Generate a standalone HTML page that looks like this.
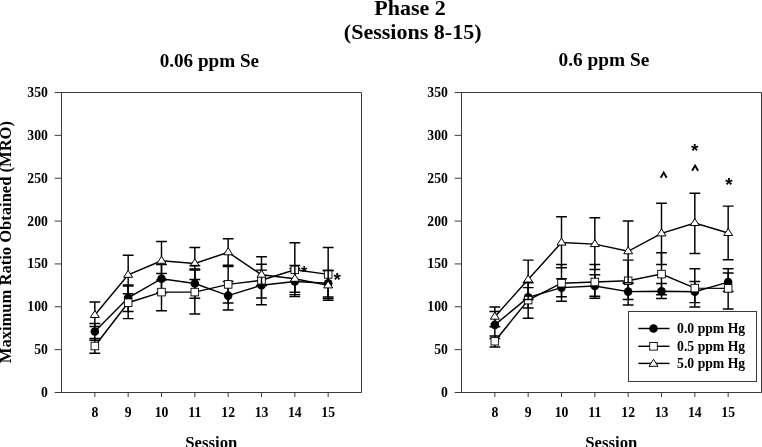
<!DOCTYPE html>
<html><head><meta charset="utf-8"><title>Phase 2 (Sessions 8-15)</title>
<style>
html,body{margin:0;padding:0;background:#fff}
body{width:762px;height:447px;overflow:hidden}
svg{display:block;will-change:transform}
text{font-family:"Liberation Serif",serif;font-weight:bold;fill:#000}
.t{font-size:13.7px}
.ax{font-size:16.5px}
.h2{font-size:19.1px}
.h1{font-size:22px}
.st{font-family:"Liberation Sans",sans-serif;font-size:16px}
.st2{font-family:"Liberation Sans",sans-serif;font-size:19px}
.ht{font-family:"Liberation Sans",sans-serif;font-size:13px}
</style></head><body>
<svg width="762" height="447" viewBox="0 0 762 447">
<rect width="762" height="447" fill="#fff"/>
<text x="410" y="14.7" text-anchor="middle" class="h1">Phase 2</text>
<text x="343.8" y="38.8" textLength="137.8" lengthAdjust="spacingAndGlyphs" class="h1">(Sessions 8-15)</text>
<text x="159.7" y="66.5" textLength="99.4" lengthAdjust="spacingAndGlyphs" class="h2">0.06 ppm Se</text>
<text x="558.6" y="65.5" textLength="90.8" lengthAdjust="spacingAndGlyphs" class="h2">0.6 ppm Se</text>
<text transform="translate(10.7 363.2) rotate(-90)" textLength="242.2" lengthAdjust="spacingAndGlyphs" class="ax">Maximum Ratio Obtained (MRO)</text>
<text x="185.2" y="447.6" textLength="52.2" lengthAdjust="spacingAndGlyphs" class="ax">Session</text>
<text x="585.2" y="447.6" textLength="52.2" lengthAdjust="spacingAndGlyphs" class="ax">Session</text>
<path d="M61.5 92.5H361.5V392.5H61.5Z" fill="none" stroke="#3a3a3a" stroke-width="1"/>
<path d="M54.7 392.5H61.5M54.7 349.64H61.5M54.7 306.79H61.5M54.7 263.93H61.5M54.7 221.07H61.5M54.7 178.21H61.5M54.7 135.36H61.5M54.7 92.5H61.5M94.83 392.5V397M128.17 392.5V397M161.5 392.5V397M194.83 392.5V397M228.16 392.5V397M261.5 392.5V397M294.83 392.5V397M328.16 392.5V397" fill="none" stroke="#3a3a3a" stroke-width="1"/>
<text x="47.9" y="397" text-anchor="end" class="t">0</text>
<text x="47.9" y="354.14" text-anchor="end" class="t">50</text>
<text x="47.9" y="311.29" text-anchor="end" class="t">100</text>
<text x="47.9" y="268.43" text-anchor="end" class="t">150</text>
<text x="47.9" y="225.57" text-anchor="end" class="t">200</text>
<text x="47.9" y="182.71" text-anchor="end" class="t">250</text>
<text x="47.9" y="139.86" text-anchor="end" class="t">300</text>
<text x="47.9" y="97" text-anchor="end" class="t">350</text>
<text x="94.83" y="416.8" text-anchor="middle" class="t">8</text>
<text x="128.17" y="416.8" text-anchor="middle" class="t">9</text>
<text x="161.5" y="416.8" text-anchor="middle" class="t">10</text>
<text x="194.83" y="416.8" text-anchor="middle" class="t">11</text>
<text x="228.16" y="416.8" text-anchor="middle" class="t">12</text>
<text x="261.5" y="416.8" text-anchor="middle" class="t">13</text>
<text x="294.83" y="416.8" text-anchor="middle" class="t">14</text>
<text x="328.16" y="416.8" text-anchor="middle" class="t">15</text>
<polyline points="94.83,331.5 128.17,297.8 161.5,278.7 194.83,283.5 228.16,295.6 261.5,285.2 294.83,281.5 328.16,283.3" fill="none" stroke="#000" stroke-width="1.45"/>
<path d="M94.83 323.4V340.2M89.43 323.4H100.23M89.43 340.2H100.23M128.17 284.9V311.5M122.77 284.9H133.57M122.77 311.5H133.57M161.5 264.6V292.8M156.1 264.6H166.9M156.1 292.8H166.9M194.83 269V298.2M189.43 269H200.23M189.43 298.2H200.23M228.16 281.5V310M222.76 281.5H233.56M222.76 310H233.56M261.5 270.1V297.9M256.1 270.1H266.9M256.1 297.9H266.9M294.83 268.4V294.6M289.43 268.4H300.23M289.43 294.6H300.23M328.16 270.5V297M322.76 270.5H333.56M322.76 297H333.56" fill="none" stroke="#000" stroke-width="1.45"/>
<circle cx="94.83" cy="331.5" r="4.3" fill="#000"/>
<circle cx="128.17" cy="297.8" r="4.3" fill="#000"/>
<circle cx="161.5" cy="278.7" r="4.3" fill="#000"/>
<circle cx="194.83" cy="283.5" r="4.3" fill="#000"/>
<circle cx="228.16" cy="295.6" r="4.3" fill="#000"/>
<circle cx="261.5" cy="285.2" r="4.3" fill="#000"/>
<circle cx="294.83" cy="281.5" r="4.3" fill="#000"/>
<circle cx="328.16" cy="283.3" r="4.3" fill="#000"/>
<polyline points="94.83,346 128.17,302.7 161.5,292.1 194.83,292.1 228.16,284.4 261.5,280.3 294.83,269.8 328.16,274.4" fill="none" stroke="#000" stroke-width="1.45"/>
<path d="M94.83 338.4V353.2M89.43 338.4H100.23M89.43 353.2H100.23M128.17 286V318.6M122.77 286H133.57M122.77 318.6H133.57M161.5 273.4V310.7M156.1 273.4H166.9M156.1 310.7H166.9M194.83 269.9V314M189.43 269.9H200.23M189.43 314H200.23M228.16 265.3V303M222.76 265.3H233.56M222.76 303H233.56M261.5 256.8V304.8M256.1 256.8H266.9M256.1 304.8H266.9M294.83 242.7V296.5M289.43 242.7H300.23M289.43 296.5H300.23M328.16 247.4V300.3M322.76 247.4H333.56M322.76 300.3H333.56" fill="none" stroke="#000" stroke-width="1.45"/>
<rect x="91.03" y="342.2" width="7.6" height="7.6" fill="#fff" stroke="#000" stroke-width="0.9"/>
<rect x="124.37" y="298.9" width="7.6" height="7.6" fill="#fff" stroke="#000" stroke-width="0.9"/>
<rect x="157.7" y="288.3" width="7.6" height="7.6" fill="#fff" stroke="#000" stroke-width="0.9"/>
<rect x="191.03" y="288.3" width="7.6" height="7.6" fill="#fff" stroke="#000" stroke-width="0.9"/>
<rect x="224.36" y="280.6" width="7.6" height="7.6" fill="#fff" stroke="#000" stroke-width="0.9"/>
<rect x="257.7" y="276.5" width="7.6" height="7.6" fill="#fff" stroke="#000" stroke-width="0.9"/>
<rect x="291.03" y="266" width="7.6" height="7.6" fill="#fff" stroke="#000" stroke-width="0.9"/>
<rect x="324.36" y="270.6" width="7.6" height="7.6" fill="#fff" stroke="#000" stroke-width="0.9"/>
<polyline points="94.83,315 128.17,274.8 161.5,260.8 194.83,263.4 228.16,252.3 261.5,274.7 294.83,278.8 328.16,285.4" fill="none" stroke="#000" stroke-width="1.45"/>
<path d="M94.83 301.9V326.4M89.43 301.9H100.23M89.43 326.4H100.23M128.17 255.2V293.8M122.77 255.2H133.57M122.77 293.8H133.57M161.5 241.4V280M156.1 241.4H166.9M156.1 280H166.9M194.83 247.4V279.4M189.43 247.4H200.23M189.43 279.4H200.23M228.16 238.7V266.5M222.76 238.7H233.56M222.76 266.5H233.56M261.5 264.2V285.4M256.1 264.2H266.9M256.1 285.4H266.9M294.83 265.4V292.2M289.43 265.4H300.23M289.43 292.2H300.23M328.16 270.5V298.5M322.76 270.5H333.56M322.76 298.5H333.56" fill="none" stroke="#000" stroke-width="1.45"/>
<path d="M94.83 310.5L99.33 317.5L90.33 317.5Z" fill="#fff" stroke="#000" stroke-width="1" stroke-linejoin="miter"/>
<path d="M128.17 270.3L132.67 277.3L123.67 277.3Z" fill="#fff" stroke="#000" stroke-width="1" stroke-linejoin="miter"/>
<path d="M161.5 256.3L166 263.3L157 263.3Z" fill="#fff" stroke="#000" stroke-width="1" stroke-linejoin="miter"/>
<path d="M194.83 258.9L199.33 265.9L190.33 265.9Z" fill="#fff" stroke="#000" stroke-width="1" stroke-linejoin="miter"/>
<path d="M228.16 247.8L232.66 254.8L223.66 254.8Z" fill="#fff" stroke="#000" stroke-width="1" stroke-linejoin="miter"/>
<path d="M261.5 270.2L266 277.2L257 277.2Z" fill="#fff" stroke="#000" stroke-width="1" stroke-linejoin="miter"/>
<path d="M294.83 274.3L299.33 281.3L290.33 281.3Z" fill="#fff" stroke="#000" stroke-width="1" stroke-linejoin="miter"/>
<path d="M328.16 280.9L332.66 287.9L323.66 287.9Z" fill="#fff" stroke="#000" stroke-width="1" stroke-linejoin="miter"/>
<path d="M189.43 265.6H200.23" stroke="#000" stroke-width="1.45"/>
<path d="M461.5 92.5H761.5V392.5H461.5Z" fill="none" stroke="#3a3a3a" stroke-width="1"/>
<path d="M454.7 392.5H461.5M454.7 349.64H461.5M454.7 306.79H461.5M454.7 263.93H461.5M454.7 221.07H461.5M454.7 178.21H461.5M454.7 135.36H461.5M454.7 92.5H461.5M494.83 392.5V397M528.17 392.5V397M561.5 392.5V397M594.83 392.5V397M628.16 392.5V397M661.5 392.5V397M694.83 392.5V397M728.16 392.5V397" fill="none" stroke="#3a3a3a" stroke-width="1"/>
<text x="447.9" y="397" text-anchor="end" class="t">0</text>
<text x="447.9" y="354.14" text-anchor="end" class="t">50</text>
<text x="447.9" y="311.29" text-anchor="end" class="t">100</text>
<text x="447.9" y="268.43" text-anchor="end" class="t">150</text>
<text x="447.9" y="225.57" text-anchor="end" class="t">200</text>
<text x="447.9" y="182.71" text-anchor="end" class="t">250</text>
<text x="447.9" y="139.86" text-anchor="end" class="t">300</text>
<text x="447.9" y="97" text-anchor="end" class="t">350</text>
<text x="494.83" y="416.8" text-anchor="middle" class="t">8</text>
<text x="528.17" y="416.8" text-anchor="middle" class="t">9</text>
<text x="561.5" y="416.8" text-anchor="middle" class="t">10</text>
<text x="594.83" y="416.8" text-anchor="middle" class="t">11</text>
<text x="628.16" y="416.8" text-anchor="middle" class="t">12</text>
<text x="661.5" y="416.8" text-anchor="middle" class="t">13</text>
<text x="694.83" y="416.8" text-anchor="middle" class="t">14</text>
<text x="728.16" y="416.8" text-anchor="middle" class="t">15</text>
<polyline points="494.83,324.9 528.17,297.4 561.5,287.6 594.83,286 628.16,291.6 661.5,291.2 694.83,291.8 728.16,282.1" fill="none" stroke="#000" stroke-width="1.45"/>
<path d="M494.83 311.4V338.4M489.43 311.4H500.23M489.43 338.4H500.23M528.17 287.6V307.9M522.77 287.6H533.57M522.77 307.9H533.57M561.5 278.8V296.7M556.1 278.8H566.9M556.1 296.7H566.9M594.83 274.8V296.3M589.43 274.8H600.23M589.43 296.3H600.23M628.16 283.5V299.5M622.76 283.5H633.56M622.76 299.5H633.56M661.5 283.4V298.4M656.1 283.4H666.9M656.1 298.4H666.9M694.83 281.4V302.6M689.43 281.4H700.23M689.43 302.6H700.23M728.16 272.9V291.5M722.76 272.9H733.56M722.76 291.5H733.56" fill="none" stroke="#000" stroke-width="1.45"/>
<circle cx="494.83" cy="324.9" r="4.3" fill="#000"/>
<circle cx="528.17" cy="297.4" r="4.3" fill="#000"/>
<circle cx="561.5" cy="287.6" r="4.3" fill="#000"/>
<circle cx="594.83" cy="286" r="4.3" fill="#000"/>
<circle cx="628.16" cy="291.6" r="4.3" fill="#000"/>
<circle cx="661.5" cy="291.2" r="4.3" fill="#000"/>
<circle cx="694.83" cy="291.8" r="4.3" fill="#000"/>
<circle cx="728.16" cy="282.1" r="4.3" fill="#000"/>
<polyline points="494.83,341.2 528.17,300.1 561.5,283.2 594.83,282 628.16,280.8 661.5,274.1 694.83,288.1 728.16,288.4" fill="none" stroke="#000" stroke-width="1.45"/>
<path d="M494.83 335.9V346.9M489.43 335.9H500.23M489.43 346.9H500.23M528.17 282.7V318.2M522.77 282.7H533.57M522.77 318.2H533.57M561.5 264.5V301.3M556.1 264.5H566.9M556.1 301.3H566.9M594.83 264.5V298.3M589.43 264.5H600.23M589.43 298.3H600.23M628.16 260.1V304.9M622.76 260.1H633.56M622.76 304.9H633.56M661.5 252.7V294.8M656.1 252.7H666.9M656.1 294.8H666.9M694.83 268.8V306.9M689.43 268.8H700.23M689.43 306.9H700.23M728.16 268.8V308.9M722.76 268.8H733.56M722.76 308.9H733.56" fill="none" stroke="#000" stroke-width="1.45"/>
<rect x="491.03" y="337.4" width="7.6" height="7.6" fill="#fff" stroke="#000" stroke-width="0.9"/>
<rect x="524.37" y="296.3" width="7.6" height="7.6" fill="#fff" stroke="#000" stroke-width="0.9"/>
<rect x="557.7" y="279.4" width="7.6" height="7.6" fill="#fff" stroke="#000" stroke-width="0.9"/>
<rect x="591.03" y="278.2" width="7.6" height="7.6" fill="#fff" stroke="#000" stroke-width="0.9"/>
<rect x="624.37" y="277" width="7.6" height="7.6" fill="#fff" stroke="#000" stroke-width="0.9"/>
<rect x="657.7" y="270.3" width="7.6" height="7.6" fill="#fff" stroke="#000" stroke-width="0.9"/>
<rect x="691.03" y="284.3" width="7.6" height="7.6" fill="#fff" stroke="#000" stroke-width="0.9"/>
<rect x="724.36" y="284.6" width="7.6" height="7.6" fill="#fff" stroke="#000" stroke-width="0.9"/>
<polyline points="494.83,316.7 528.17,279.5 561.5,242.6 594.83,244.1 628.16,251.3 661.5,233.4 694.83,223 728.16,233" fill="none" stroke="#000" stroke-width="1.45"/>
<path d="M494.83 307V326.7M489.43 307H500.23M489.43 326.7H500.23M528.17 260.1V299.5M522.77 260.1H533.57M522.77 299.5H533.57M561.5 216.8V267.8M556.1 216.8H566.9M556.1 267.8H566.9M594.83 217.8V269.5M589.43 217.8H600.23M589.43 269.5H600.23M628.16 220.9V282.7M622.76 220.9H633.56M622.76 282.7H633.56M661.5 203.2V264.4M656.1 203.2H666.9M656.1 264.4H666.9M694.83 193.3V253.4M689.43 193.3H700.23M689.43 253.4H700.23M728.16 206.1V259.7M722.76 206.1H733.56M722.76 259.7H733.56" fill="none" stroke="#000" stroke-width="1.45"/>
<path d="M494.83 312.2L499.33 319.2L490.33 319.2Z" fill="#fff" stroke="#000" stroke-width="1" stroke-linejoin="miter"/>
<path d="M528.17 275L532.67 282L523.67 282Z" fill="#fff" stroke="#000" stroke-width="1" stroke-linejoin="miter"/>
<path d="M561.5 238.1L566 245.1L557 245.1Z" fill="#fff" stroke="#000" stroke-width="1" stroke-linejoin="miter"/>
<path d="M594.83 239.6L599.33 246.6L590.33 246.6Z" fill="#fff" stroke="#000" stroke-width="1" stroke-linejoin="miter"/>
<path d="M628.16 246.8L632.66 253.8L623.66 253.8Z" fill="#fff" stroke="#000" stroke-width="1" stroke-linejoin="miter"/>
<path d="M661.5 228.9L666 235.9L657 235.9Z" fill="#fff" stroke="#000" stroke-width="1" stroke-linejoin="miter"/>
<path d="M694.83 218.5L699.33 225.5L690.33 225.5Z" fill="#fff" stroke="#000" stroke-width="1" stroke-linejoin="miter"/>
<path d="M728.16 228.5L732.66 235.5L723.66 235.5Z" fill="#fff" stroke="#000" stroke-width="1" stroke-linejoin="miter"/>
<text x="304.2" y="277.5" text-anchor="middle" class="st">*</text>
<text x="337.1" y="286" text-anchor="middle" class="st2">*</text>
<text x="694.6" y="157" text-anchor="middle" class="st2">*</text>
<text x="729" y="191.4" text-anchor="middle" class="st2">*</text>
<path d="M660.7 177.8L663.7 172.6L666.7 177.8" fill="none" stroke="#000" stroke-width="1.9" stroke-linejoin="miter"/>
<path d="M692.1 170.8L695.1 165.6L698.1 170.8" fill="none" stroke="#000" stroke-width="1.9" stroke-linejoin="miter"/>
<rect x="628.5" y="311.5" width="128" height="70" fill="#fff" stroke="#3a3a3a" stroke-width="1"/>
<path d="M638.3 328.5H669.5" stroke="#000" stroke-width="1.45"/>
<circle cx="653.5" cy="328.5" r="4.3" fill="#000"/>
<text x="677.1" y="333.1" class="t">0.0 ppm Hg</text>
<path d="M638.3 346.3H669.5" stroke="#000" stroke-width="1.45"/>
<rect x="649.7" y="342.5" width="7.6" height="7.6" fill="#fff" stroke="#000" stroke-width="0.9"/>
<text x="677.1" y="350.6" class="t">0.5 ppm Hg</text>
<path d="M638.3 363.4H669.5" stroke="#000" stroke-width="1.45"/>
<path d="M653.5 359.3L658 366.3L649 366.3Z" fill="#fff" stroke="#000" stroke-width="1" stroke-linejoin="miter"/>
<text x="677.1" y="367.9" class="t">5.0 ppm Hg</text>
</svg>
</body></html>
